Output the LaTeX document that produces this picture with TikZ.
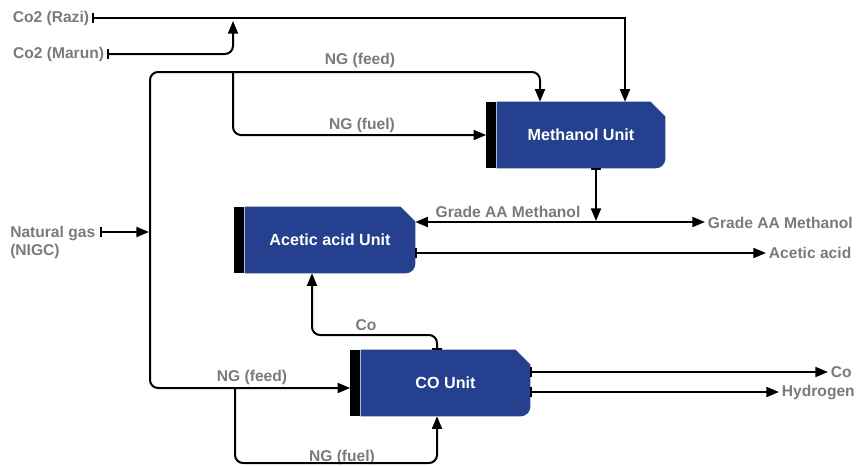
\documentclass[tikz,border=0pt]{standalone}
\usepackage{fontspec}
\setmainfont{Liberation Sans}
\usetikzlibrary{arrows.meta,positioning,calc,backgrounds}
\definecolor{unitblue}{RGB}{37,64,143}
\definecolor{lblgray}{RGB}{122,122,122}
\newcommand{\unitshape}[1]{%
  \fill[unitblue] (#1.south west) -- (#1.north west) -- ([xshift=-11pt]#1.north east)
    -- ([yshift=-11pt]#1.north east) -- ([yshift=7pt]#1.south east)
    arc[start angle=0,end angle=-90,radius=7pt] -- cycle;}

\begin{document}
\begin{tikzpicture}[x=0.75pt,y=-0.75pt,
  lbl/.style={text=lblgray,font=\bfseries\fontsize{11.7}{13.5}\selectfont,inner sep=2pt},
  unit/.style={minimum height=49.5pt,inner sep=0pt,text=white,font=\bfseries\fontsize{12.1}{14}\selectfont},
  unitbar/.style={fill=black,minimum width=7.5pt,minimum height=49.5pt,inner sep=0pt},
  flow/.style={line width=1.5pt,-{Triangle[length=9.5pt,width=7.5pt]}},
  feed/.style={line width=1.5pt,{Bar[width=7pt]}-{Triangle[length=9.5pt,width=7.5pt]}},
  both/.style={line width=1.5pt,{Triangle[length=9.5pt,width=7.5pt]}-{Triangle[length=9.5pt,width=7.5pt]}}]
\useasboundingbox (0,0) rectangle (858,465);

\node[unit,minimum width=126pt] (meth) at (581,135) {Methanol Unit};
\node[unit,minimum width=127.5pt] (acet) at (330,240) {Acetic acid Unit};
\node[unit,minimum width=126.75pt] (co) at (445.5,383) {CO Unit};
\node[unitbar,left=0pt of meth] (methbar) {};
\node[unitbar,left=0pt of acet] (acetbar) {};
\node[unitbar,left=0pt of co] (cobar) {};
\begin{scope}[on background layer]
  \unitshape{meth}
  \unitshape{acet}
  \unitshape{co}
\end{scope}

\node[lbl,anchor=east] (razi) at (92,18) {Co2 (Razi)};
\node[lbl,anchor=east] (marun) at (107,54) {Co2 (Marun)};
\node[lbl,anchor=north west,align=left,inner sep=0pt] (nigc) at (10,226) {Natural gas\\(NIGC)};
\coordinate (nigcout) at (100,232);
\node[lbl,anchor=west] (gaa) at (705,223) {Grade AA Methanol};
\node[lbl,anchor=west] (acid) at (766,253) {Acetic acid};
\node[lbl,anchor=west] (coout) at (828,372) {Co};
\node[lbl,anchor=west] (hyd) at (779,392) {Hydrogen};

\node[lbl] (ngfeedtop) at (360,60) {NG (feed)};
\node[lbl] (ngfueltop) at (362,125) {NG (fuel)};
\node[lbl] (gaamid) at (508,212) {Grade AA Methanol};
\node[lbl] (colbl) at (366,325) {Co};
\node[lbl] (ngfeedbot) at (252,377) {NG (feed)};
\node[lbl] (ngfuelbot) at (342,457) {NG (fuel)};

\draw[feed] (razi.east) -| (625,0 |- meth.north);
\draw[feed,rounded corners=6pt] (marun.east) -| (233,21);
\draw[feed] (nigcout) -- (149,232);
\draw[flow,rounded corners=6pt] (150,232) |- (540,72) -- (540,0 |- meth.north);
\draw[flow,rounded corners=6pt] (233,72) |- (methbar.west);
\draw[flow,rounded corners=6pt] (150,232) |- (cobar.west |- 0,388);
\draw[flow,rounded corners=6pt] (235,388) |- (437,463) -- (437,0 |- co.south);

\draw[feed] (596,0 |- meth.south) -- (596,221);
\draw[both] (acet.east |- 0,222) -- (gaa.west |- 0,222);
\draw[feed] (acet.east |- acid.west) -- (acid.west);
\draw[feed,rounded corners=6pt] (437,0 |- co.north) |- (312,335) -- (312,0 |- acet.south);
\draw[feed] (co.east |- coout.west) -- (coout.west);
\draw[feed] (co.east |- hyd.west) -- (hyd.west);
\end{tikzpicture}
\end{document}
